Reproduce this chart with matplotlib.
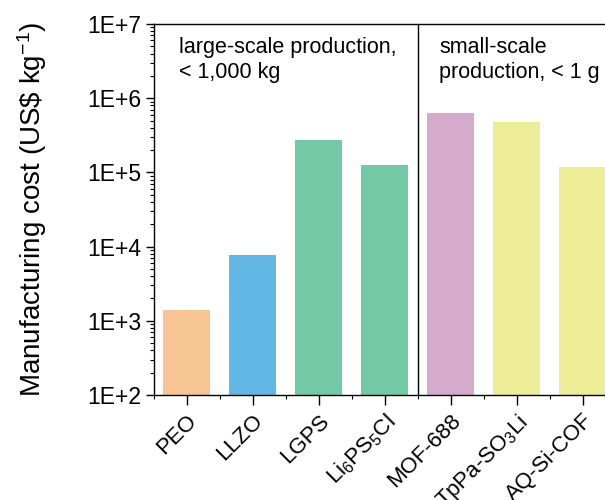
import matplotlib
matplotlib.use("Agg")
import matplotlib.pyplot as plt
from matplotlib.ticker import LogLocator, FixedLocator, NullFormatter

plt.rcParams['font.family'] = ['Liberation Sans', 'DejaVu Sans']
plt.rcParams['mathtext.fontset'] = 'custom'
plt.rcParams['mathtext.rm'] = 'Liberation Sans'
plt.rcParams['mathtext.it'] = 'Liberation Sans:italic'
plt.rcParams['mathtext.bf'] = 'Liberation Sans:bold'

categories = ['PEO', 'LLZO', 'LGPS', 'Li$_6$PS$_5$Cl', 'MOF-688', 'TpPa-SO$_3$Li', 'AQ-Si-COF']
costs = [1400, 7700, 2.75e5, 1.25e5, 6.3e5, 4.75e5, 1.17e5]
colors = ['#F7C493', '#63B7E5', '#73C8A6', '#73C8A6', '#D5ABCD', '#EDEC97', '#EDEC97']
group_texts = ['large-scale production,\n< 1,000 kg', 'small-scale\nproduction, < 1 g']
ytick_values = [1e2, 1e3, 1e4, 1e5, 1e6, 1e7]
ytick_labels = ['1E+2', '1E+3', '1E+4', '1E+5', '1E+6', '1E+7']

fig = plt.figure(figsize=(6.05, 5.0), dpi=100)
ax = fig.add_axes([153.5/605, 105/500, 468.6/605, 371/500])

x = list(range(len(categories)))
ax.bar(x, costs, width=0.71, color=colors, bottom=0, zorder=2)
ax.set_yscale('log')
ax.set_ylim(1e2, 1e7)
ax.set_xlim(-0.5, 6.6)

ax.set_yticks(ytick_values)
ax.set_yticklabels(ytick_labels)
ax.yaxis.set_minor_locator(LogLocator(base=10, subs=range(2, 10), numticks=20))
ax.yaxis.set_minor_formatter(NullFormatter())

ax.set_xticks(x)
ax.set_xticklabels(categories, rotation=45, ha='right', va='top', rotation_mode='anchor')
ax.xaxis.set_minor_locator(FixedLocator([i + 0.5 for i in range(-1, 7)]))

ax.tick_params(axis='both', which='major', direction='out', length=6, width=1.0,
               labelsize=16.5, pad=3)
ax.tick_params(axis='both', which='minor', direction='out', length=3, width=0.8)
ax.tick_params(axis='x', which='major', length=7, pad=4, labelsize=16)

for s in ax.spines.values():
    s.set_linewidth(1.0)

ax.axvline(3.5, color='black', linewidth=1.0, zorder=3)

ax.text(-0.12, 0.965, group_texts[0], transform=ax.get_xaxis_transform(),
        ha='left', va='top', fontsize=15.5, linespacing=1.25)
ax.text(3.83, 0.965, group_texts[1], transform=ax.get_xaxis_transform(),
        ha='left', va='top', fontsize=15.5, linespacing=1.25)

ax.set_ylabel('Manufacturing cost (US\\$ kg$^{-1}$)', fontsize=20, labelpad=27)

fig.savefig('out.png', dpi=100)
